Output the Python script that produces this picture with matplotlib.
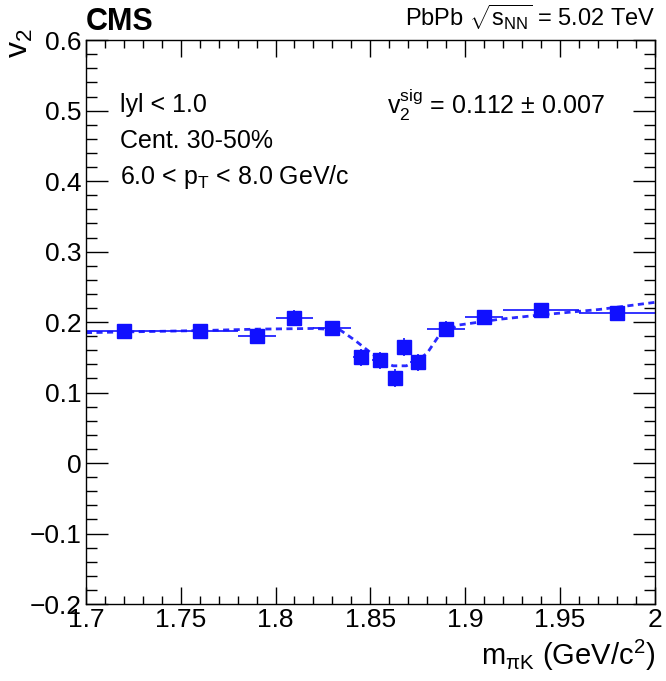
import numpy as np
import matplotlib
matplotlib.use("Agg")
import matplotlib.pyplot as plt
from matplotlib.ticker import MultipleLocator

plt.rcParams['font.family'] = ['Liberation Sans', 'DejaVu Sans']
plt.rcParams['mathtext.fontset'] = 'custom'
plt.rcParams['mathtext.rm'] = 'Liberation Sans'
plt.rcParams['mathtext.it'] = 'Liberation Sans'
plt.rcParams['mathtext.bf'] = 'Liberation Sans:bold'

# data points v2 vs invariant mass
m_pik = [1.72, 1.76, 1.79, 1.81, 1.83, 1.845, 1.855, 1.863, 1.868, 1.875, 1.89, 1.91, 1.94, 1.98]
v2 = [0.187, 0.187, 0.180, 0.206, 0.191, 0.150, 0.146, 0.121, 0.165, 0.143, 0.190, 0.207, 0.217, 0.213]
m_err = [0.02, 0.02, 0.01, 0.01, 0.01, 0.004, 0.004, 0.003, 0.003, 0.004, 0.01, 0.01, 0.02, 0.02]
v2_err = [0.010, 0.010, 0.011, 0.011, 0.011, 0.012, 0.012, 0.013, 0.013, 0.012, 0.011, 0.010, 0.010, 0.010]

# fit curve
fit_m = [1.700, 1.760, 1.790, 1.820, 1.834, 1.842, 1.850, 1.857, 1.862, 1.869, 1.875,
         1.880, 1.884, 1.887, 1.897, 1.918, 1.939, 1.971, 2.000]
fit_v2 = [0.185, 0.188, 0.190, 0.191, 0.189, 0.174, 0.157, 0.143, 0.138, 0.138, 0.146,
          0.156, 0.172, 0.184, 0.196, 0.204, 0.210, 0.218, 0.228]

fig = plt.figure(figsize=(6.66, 6.81), dpi=100)
ax = fig.add_axes([0.129, 0.113, 0.854, 0.828])

ax.plot(fit_m, fit_v2, color='#2a2aff', linestyle=(0, (2.2, 1.6)), linewidth=2)
ax.errorbar(m_pik, v2, xerr=m_err, yerr=v2_err, fmt='s', color='#1010ff',
            markersize=10.5, elinewidth=1.2, capsize=0)

ax.set_xlim(1.7, 2.0)
ax.set_ylim(-0.2, 0.6)
ax.xaxis.set_major_locator(MultipleLocator(0.05))
ax.xaxis.set_minor_locator(MultipleLocator(0.01))
ax.yaxis.set_major_locator(MultipleLocator(0.1))
ax.yaxis.set_minor_locator(MultipleLocator(0.02))
ax.tick_params(which='both', direction='in', top=True, right=True, labelsize=19, width=1)
ax.tick_params(axis='x', which='major', length=12, pad=3)
ax.tick_params(axis='x', which='minor', length=6)
ax.tick_params(axis='y', which='major', length=16, pad=3)
ax.tick_params(axis='y', which='minor', length=8)
ax.set_xticks([1.7, 1.75, 1.8, 1.85, 1.9, 1.95, 2.0])
ax.set_xticklabels(['1.7', '1.75', '1.8', '1.85', '1.9', '1.95', '2'])
ax.set_yticks([-0.2, -0.1, 0, 0.1, 0.2, 0.3, 0.4, 0.5, 0.6])
ax.set_yticklabels(['\u22120.2', '\u22120.1', '0', '0.1', '0.2', '0.3', '0.4', '0.5', '0.6'])
for s in ax.spines.values():
    s.set_linewidth(1)

fig.text(0.983, 0.012, r'm$_{\pi\mathrm{K}}$ (GeV/c$^{2}$)', ha='right', va='bottom', fontsize=21)
fig.text(0.008, 0.958, r'v$_{2}$', ha='left', va='top', rotation=90, fontsize=23)

fig.text(0.129, 0.946, 'CMS', ha='left', va='bottom', fontsize=22, fontweight='bold')
fig.text(0.985, 0.953, r'PbPb $\sqrt{\mathrm{s}_{\mathrm{NN}}}$ = 5.02 TeV', ha='right', va='bottom', fontsize=17)

ax.text(0.06, 0.885, 'lyl < 1.0', transform=ax.transAxes, fontsize=18, va='center')
ax.text(0.06, 0.822, 'Cent. 30-50%', transform=ax.transAxes, fontsize=18, va='center')
ax.text(0.06, 0.758, r'6.0 < p$_{\mathrm{T}}$ < 8.0 GeV/c', transform=ax.transAxes, fontsize=18, va='center')
ax.text(0.53, 0.885, r'v$_{2}^{\mathrm{sig}}$ = 0.112 $\pm$ 0.007', transform=ax.transAxes, fontsize=18, va='center')

fig.savefig('out.png', dpi=100)
